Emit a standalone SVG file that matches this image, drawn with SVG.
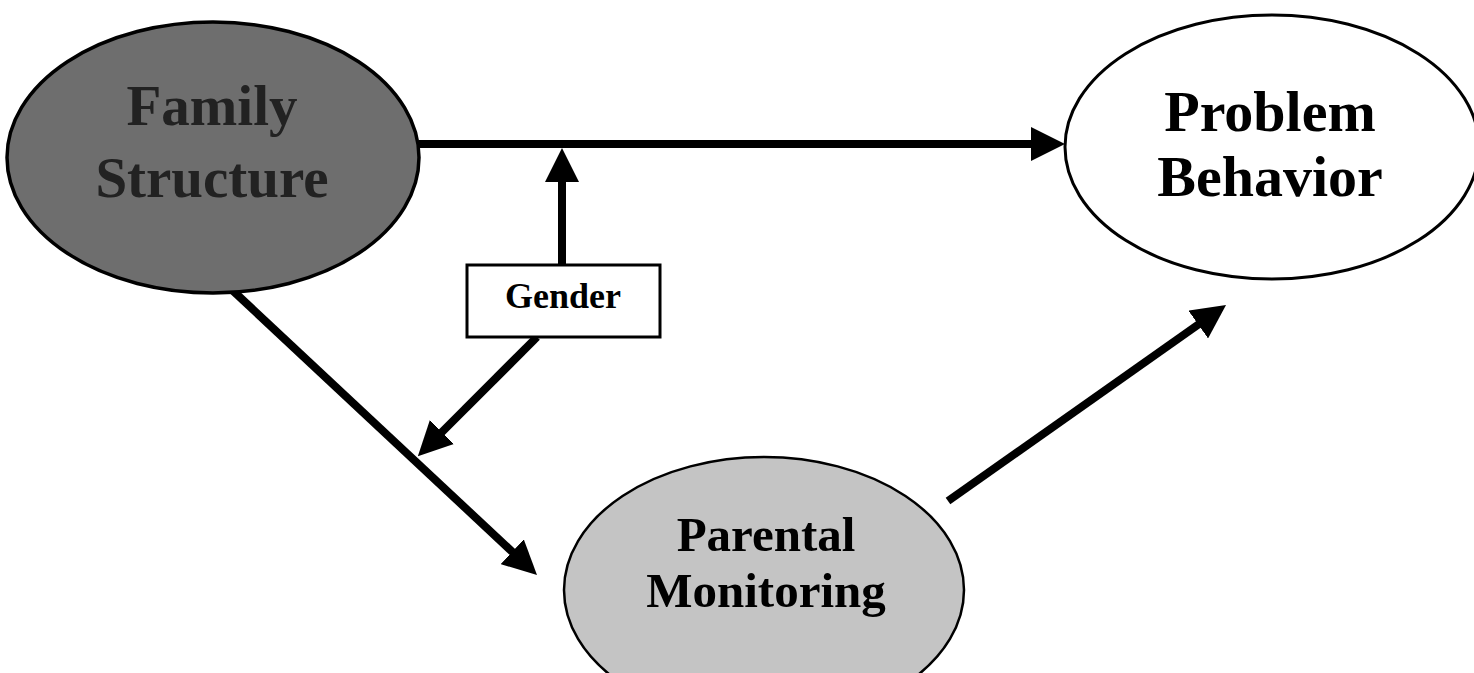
<svg xmlns="http://www.w3.org/2000/svg" width="1474" height="673" viewBox="0 0 1474 673">
<style>
  .lbl { font-family: "Liberation Serif", "Times New Roman", serif; font-weight: bold; text-anchor: middle; }
  .conn { stroke: #000; stroke-width: 8; fill: none; marker-end: url(#arrow); }
</style>
<defs>
  <marker id="arrow" markerUnits="userSpaceOnUse" markerWidth="34" markerHeight="34" refX="14" refY="17" orient="auto">
    <path d="M0,0 L34,17 L0,34 z" fill="#000"/>
  </marker>
</defs>
<rect width="1474" height="673" fill="#fff"/>
<g id="connectors">
  <line class="conn" x1="419" y1="144" x2="1045" y2="144"/>
  <line class="conn" x1="562" y1="265" x2="562" y2="168"/>
  <line class="conn" x1="537" y1="337" x2="432" y2="442"/>
  <line class="conn" x1="230" y1="288" x2="522.4" y2="561.3"/>
  <line class="conn" x1="948" y1="501" x2="1209.7" y2="316.5"/>
</g>
<g id="family-structure">
  <ellipse cx="213" cy="157.5" rx="206" ry="135.5" fill="#6e6e6e" stroke="#000" stroke-width="3.5"/>
  <text class="lbl" x="212" y="125" font-size="57" fill="#222">Family</text>
  <text class="lbl" x="212" y="197" font-size="57" fill="#222">Structure</text>
</g>
<g id="problem-behavior">
  <ellipse cx="1272" cy="147" rx="207" ry="132" fill="#fff" stroke="#000" stroke-width="3"/>
  <text class="lbl" x="1270" y="131" font-size="58" fill="#000">Problem</text>
  <text class="lbl" x="1270" y="196" font-size="58" fill="#000">Behavior</text>
</g>
<g id="gender">
  <rect x="467" y="265" width="193" height="72" fill="#fff" stroke="#000" stroke-width="3"/>
  <text class="lbl" x="563" y="308" font-size="36" fill="#000">Gender</text>
</g>
<g id="parental-monitoring">
  <ellipse cx="764" cy="590" rx="200" ry="133" fill="#c4c4c4" stroke="#000" stroke-width="2.5"/>
  <text class="lbl" x="766" y="551" font-size="49" fill="#000">Parental</text>
  <text class="lbl" x="766" y="607" font-size="49" fill="#000">Monitoring</text>
</g>
</svg>
